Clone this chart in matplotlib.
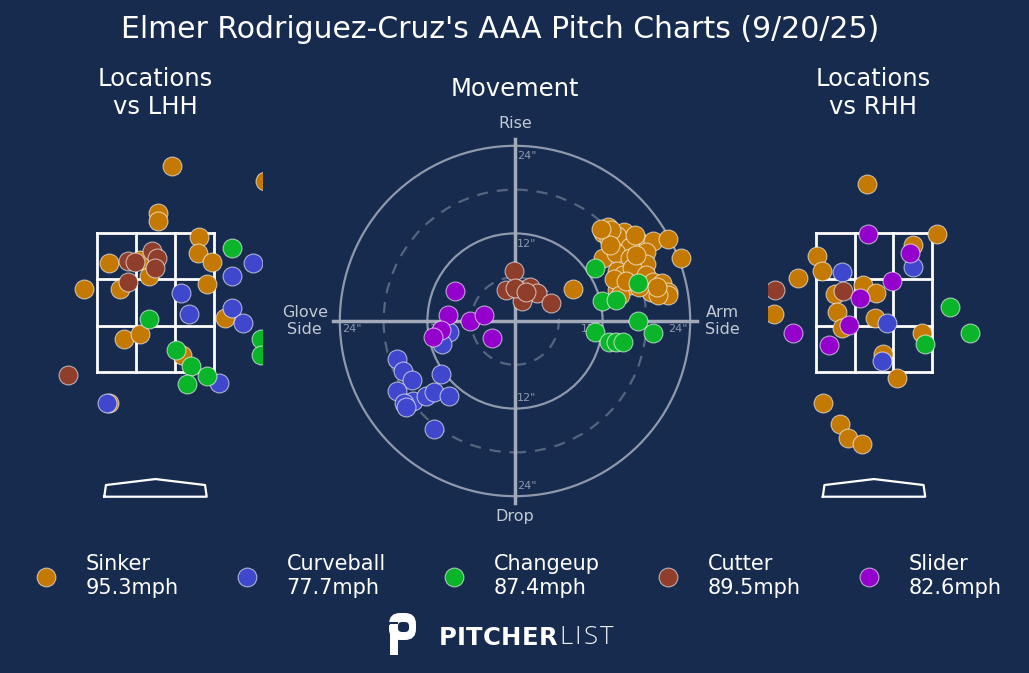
import matplotlib.pyplot as plt
from matplotlib.lines import Line2D
from matplotlib.patches import Circle, FancyBboxPatch, Rectangle

BG = "#162b4e"
W, H = 1029, 673

pitch_names = ["Sinker", "Curveball", "Changeup", "Cutter", "Slider"]
pitch_speeds = [95.3, 77.7, 87.4, 89.5, 82.6]
pitch_colors = ["#c47a02", "#3f48cc", "#0bb52a", "#8e3e2b", "#9400cc"]

# pitch locations vs LHH, (plate_x ft, plate_z ft)
sinker_lhh = [(0.20, 4.46), (1.33, 4.25), (0.03, 3.79), (0.03, 3.67), (0.53, 3.44),
              (0.51, 3.21), (0.68, 3.08), (-0.56, 3.07), (0.62, 2.77), (-0.87, 2.69),
              (-0.43, 2.69), (-0.08, 2.88), (-0.19, 3.11), (0.84, 2.28), (-0.38, 1.97),
              (-0.19, 2.05), (0.32, 1.74), (-0.56, 1.05)]
curve_lhh = [(1.18, 3.07), (0.93, 2.88), (0.31, 2.64), (0.41, 2.33), (0.93, 2.42),
             (1.06, 2.21), (0.77, 1.34), (-0.59, 1.05)]
change_lhh = [(0.93, 3.28), (-0.08, 2.26), (0.25, 1.82), (0.43, 1.59), (0.62, 1.44),
              (0.38, 1.33), (1.28, 1.97), (1.28, 1.74)]
cutter_lhh = [(-0.33, 3.10), (-0.25, 3.08), (-0.04, 3.24), (0.02, 3.14), (-0.01, 3.00),
              (-0.33, 2.80), (-1.06, 1.46)]
slider_lhh = []

# pitch locations vs RHH
sinker_rhh = [(-0.08, 4.21), (0.76, 3.49), (0.47, 3.33), (-0.69, 3.17), (-0.63, 2.95),
              (-0.92, 2.85), (-0.13, 2.75), (0.02, 2.64), (-0.47, 2.62), (-0.45, 2.36),
              (-1.21, 2.33), (0.01, 2.28), (-0.39, 2.13), (0.58, 2.06), (0.11, 1.76),
              (0.28, 1.41), (-0.62, 1.05), (-0.41, 0.75), (-0.31, 0.55), (-0.15, 0.46)]
curve_rhh = [(-0.39, 2.94), (0.47, 3.01), (0.16, 2.21), (0.10, 1.66)]
change_rhh = [(0.92, 2.44), (1.16, 2.06), (0.62, 1.90)]
cutter_rhh = [(-0.38, 2.67), (-1.20, 2.68)]
slider_rhh = [(-0.07, 3.49), (0.44, 3.21), (0.22, 2.81), (-0.17, 2.56), (-0.30, 2.18),
              (-0.98, 2.06), (-0.54, 1.89)]

# movement (horizontal break in, induced vertical break in), arm side positive
sinker_mov = [(7.9, 4.4), (12.8, 12.9), (12.0, 12.1), (15.0, 12.2), (12.9, 11.2),
              (14.0, 11.6), (16.9, 10.9), (18.9, 10.9), (20.9, 11.2), (22.8, 8.6),
              (15.8, 10.2), (17.9, 9.5), (12.0, 8.6), (13.8, 9.3), (15.8, 8.6),
              (17.9, 7.8), (14.0, 6.8), (14.8, 6.3), (16.0, 7.2), (17.9, 6.3),
              (18.9, 5.4), (20.1, 5.2), (20.9, 4.0), (20.9, 3.6), (18.7, 4.0),
              (19.6, 3.6), (14.0, 4.2), (15.8, 4.9), (13.5, 5.8), (14.4, 3.6),
              (13.2, 12.5), (16.5, 11.8), (13.0, 10.4), (16.6, 9.0), (15.2, 5.5),
              (17.0, 4.6), (19.4, 4.6), (11.8, 12.6)]
curve_mov = [(-9.0, -1.5), (-10.0, -3.1), (-16.2, -5.2), (-15.3, -6.8), (-14.1, -8.1),
             (-10.1, -7.3), (-16.2, -9.6), (-14.0, -10.9), (-12.2, -10.3), (-11.1, -9.7),
             (-9.1, -10.3), (-15.2, -11.3), (-15.0, -11.8), (-11.1, -14.8)]
change_mov = [(10.9, 7.3), (11.9, 2.7), (13.9, 2.9), (16.9, 5.2), (16.9, 0.0),
              (18.9, -1.6), (10.9, -1.5), (12.9, -2.9), (13.9, -2.9), (14.8, -2.9)]
cutter_mov = [(-0.1, 6.9), (-1.2, 4.3), (0.9, 4.3), (2.0, 4.7), (3.0, 3.8),
              (0.9, 2.7), (4.9, 2.4), (0.0, 4.5), (1.5, 4.0)]
slider_mov = [(-8.2, 4.1), (-9.2, 0.8), (-6.1, 0.0), (-4.2, 0.8), (-10.1, -1.2),
              (-11.2, -2.2), (-3.2, -2.3)]

lhh_sets = [sinker_lhh, curve_lhh, change_lhh, cutter_lhh, slider_lhh]
rhh_sets = [sinker_rhh, curve_rhh, change_rhh, cutter_rhh, slider_rhh]
mov_sets = [sinker_mov, curve_mov, change_mov, cutter_mov, slider_mov]

ZONE_X = [-0.708, -0.236, 0.236, 0.708]
ZONE_Z = [1.5, 2.167, 2.833, 3.5]
PLATE_X = [-0.62, -0.60, 0.0, 0.60, 0.62, -0.62]
PLATE_Z = [-0.294, -0.126, -0.04, -0.126, -0.294, -0.294]

MS = 185
EDGE = (1, 1, 1, 0.6)

fig = plt.figure(figsize=(W / 100, H / 100), dpi=100, facecolor=BG)
renderer = fig.canvas.get_renderer()


def px_axes(x0, y0, x1, y1):
    ax = fig.add_axes([x0 / W, 1 - y1 / H, (x1 - x0) / W, (y1 - y0) / H])
    ax.set_facecolor("none")
    ax.axis("off")
    return ax


def scatter_sets(ax, sets):
    for pts, color in zip(sets, pitch_colors):
        if not pts:
            continue
        xs = [p[0] for p in pts]
        ys = [p[1] for p in pts]
        ax.scatter(xs, ys, s=MS, c=color, edgecolors=EDGE, linewidths=0.8, zorder=3)


def draw_locations(ax, xlim, sets):
    ax.set_xlim(*xlim)
    ax.set_ylim(-0.629, 4.982)
    for zx in ZONE_X:
        ax.plot([zx, zx], [ZONE_Z[0], ZONE_Z[-1]], color="white", lw=2, zorder=2)
    for zz in ZONE_Z:
        ax.plot([ZONE_X[0], ZONE_X[-1]], [zz, zz], color="white", lw=2, zorder=2)
    ax.plot(PLATE_X, PLATE_Z, color="white", lw=1.6, zorder=2)
    scatter_sets(ax, sets)


def tracked_text(ax, x, y, s, width, **kw):
    # draw letters one by one, spread out to the given total width (pixels)
    items = []
    total = 0
    for ch in s:
        t = ax.text(x, y, ch, ha="left", va="center", **kw)
        w = t.get_window_extent(renderer).width
        items.append((t, w))
        total += w
    gap = (width - total) / max(len(s) - 1, 1)
    cx = x
    for t, w in items:
        t.set_x(cx)
        cx += w + gap


# overlay in pixel coordinates for titles and logo
over = px_axes(0, 0, W, H)
over.set_xlim(0, W)
over.set_ylim(H, 0)

over.text(500, 29, "Elmer Rodriguez-Cruz's AAA Pitch Charts (9/20/25)", color="white",
          fontsize=21.5, ha="center", va="center")
over.text(155, 93, "Locations\nvs LHH", color="white", fontsize=17.5, ha="center",
          va="center", linespacing=1.25)
over.text(873, 93, "Locations\nvs RHH", color="white", fontsize=17.5, ha="center",
          va="center", linespacing=1.25)
over.text(515, 89, "Movement", color="white", fontsize=17.5, ha="center", va="center")

# logo
over.add_patch(FancyBboxPatch((394, 618), 17, 17, boxstyle="round,pad=5,rounding_size=11",
                              fc="white", ec="none"))
over.add_patch(FancyBboxPatch((399, 623), 9, 8, boxstyle="round,pad=1,rounding_size=4",
                              fc=BG, ec="none"))
over.add_patch(Rectangle((384, 621.5), 14, 3.5, fc=BG, ec="none"))
over.add_patch(Rectangle((390, 624), 7.5, 31, fc="white", ec="none"))
tracked_text(over, 439, 638, "PITCHER", 118, color="white", fontsize=17.5,
             fontweight="bold")
tracked_text(over, 559, 638, "LIST", 54, color="#eef0f4", fontsize=18.5,
             family=["Open Sans", "DejaVu Sans"], fontweight="light")

# locations
ax_l = px_axes(30, 130, 262, 520)
draw_locations(ax_l, ((30 - 155.5) / 82.6, (262 - 155.5) / 82.6), lhh_sets)

ax_r = px_axes(768, 130, 1000, 520)
draw_locations(ax_r, ((768 - 874) / 82.6, (1000 - 874) / 82.6), rhh_sets)

# movement
ax_m = px_axes(295, 101, 735, 541)
ax_m.set_xlim(-30.14, 30.14)
ax_m.set_ylim(-30.14, 30.14)
for r in [12, 24]:
    ax_m.add_patch(Circle((0, 0), r, fill=False, ec="#8f99ab", lw=1.6, zorder=1))
for r in [6, 18]:
    ax_m.add_patch(Circle((0, 0), r, fill=False, ec="#56657f", lw=1.6,
                          linestyle=(0, (5, 4)), zorder=1))
ax_m.plot([-25, 25], [0, 0], color="#a3abba", lw=2.5, zorder=1)
ax_m.plot([0, 0], [-25, 25], color="#a3abba", lw=2.5, zorder=1)
tick_col = "#8e99ad"
for r in [12, 24]:
    ax_m.text(0.3, r - 1.4, f'{r}"', color=tick_col, fontsize=8, ha="left", va="center")
    ax_m.text(0.3, -(r - 1.4), f'{r}"', color=tick_col, fontsize=8, ha="left", va="center")
    ax_m.text(r - 1.7, -1.1, f'{r}"', color=tick_col, fontsize=8, ha="center", va="center")
    ax_m.text(-(r - 1.7), -1.1, f'{r}"', color=tick_col, fontsize=8, ha="center", va="center")
lab_col = "#c3c9d3"
ax_m.text(0, 27, "Rise", color=lab_col, fontsize=11.5, ha="center", va="center")
ax_m.text(0, -26.8, "Drop", color=lab_col, fontsize=11.5, ha="center", va="center")
ax_m.text(-28.8, 0, "Glove\nSide", color=lab_col, fontsize=11.5, ha="center",
          va="center", linespacing=1.12)
ax_m.text(28.4, 0, "Arm\nSide", color=lab_col, fontsize=11.5, ha="center",
          va="center", linespacing=1.12)
scatter_sets(ax_m, mov_sets)

# legend
handles = [Line2D([], [], ls="none", marker="o", markersize=13.5, markerfacecolor=c,
                  markeredgecolor=EDGE, markeredgewidth=0.8) for c in pitch_colors]
labels = [f"{n}\n{s}mph" for n, s in zip(pitch_names, pitch_speeds)]
fig.legend(handles, labels, loc="center", bbox_to_anchor=(0.5 - 1 / W, (H - 576) / H),
           ncol=5, frameon=False, fontsize=15, labelcolor="white", handletextpad=0.9,
           columnspacing=2.28)

fig.savefig("out.png", dpi=100, facecolor=BG)
